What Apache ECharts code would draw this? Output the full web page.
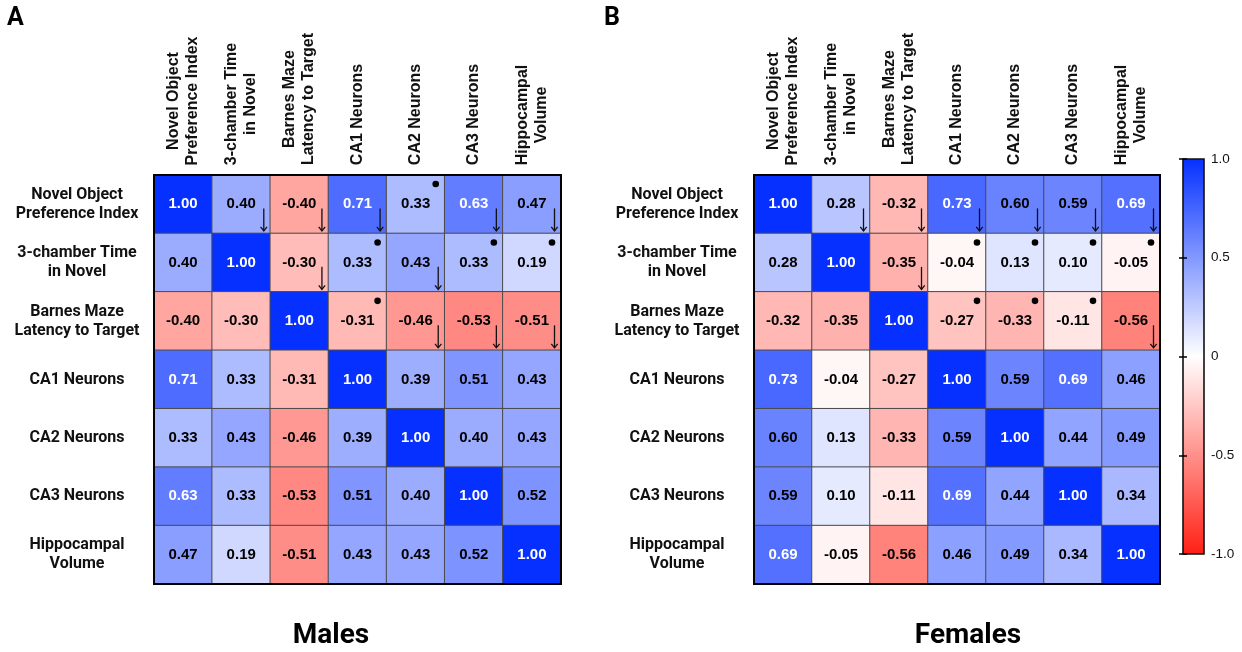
<!DOCTYPE html>
<html>
<head>
<meta charset="utf-8">
<script src="https://cdn.jsdelivr.net/npm/echarts@6/dist/echarts.min.js"></script>
<style>
html,body{margin:0;padding:0;background:#fff;}
#chart{width:1242px;height:652px;}
</style>
</head>
<body>
<div id="chart"></div>
<script>
// ---------------- DATA ----------------
const variables = [
  'Novel Object\nPreference Index',
  '3-chamber Time\nin Novel',
  'Barnes Maze\nLatency to Target',
  'CA1 Neurons',
  'CA2 Neurons',
  'CA3 Neurons',
  'Hippocampal\nVolume'
];

const malesCorr = [
  [ 1.00,  0.40, -0.40,  0.71,  0.33,  0.63,  0.47],
  [ 0.40,  1.00, -0.30,  0.33,  0.43,  0.33,  0.19],
  [-0.40, -0.30,  1.00, -0.31, -0.46, -0.53, -0.51],
  [ 0.71,  0.33, -0.31,  1.00,  0.39,  0.51,  0.43],
  [ 0.33,  0.43, -0.46,  0.39,  1.00,  0.40,  0.43],
  [ 0.63,  0.33, -0.53,  0.51,  0.40,  1.00,  0.52],
  [ 0.47,  0.19, -0.51,  0.43,  0.43,  0.52,  1.00]
];

const femalesCorr = [
  [ 1.00,  0.28, -0.32,  0.73,  0.60,  0.59,  0.69],
  [ 0.28,  1.00, -0.35, -0.04,  0.13,  0.10, -0.05],
  [-0.32, -0.35,  1.00, -0.27, -0.33, -0.11, -0.56],
  [ 0.73, -0.04, -0.27,  1.00,  0.59,  0.69,  0.46],
  [ 0.60,  0.13, -0.33,  0.59,  1.00,  0.44,  0.49],
  [ 0.59,  0.10, -0.11,  0.69,  0.44,  1.00,  0.34],
  [ 0.69, -0.05, -0.56,  0.46,  0.49,  0.34,  1.00]
];

// markers: [column, row]
const malesArrows   = [[1,0],[2,0],[3,0],[5,0],[6,0],[2,1],[4,1],[4,2],[5,2],[6,2]];
const malesDots     = [[4,0],[3,1],[5,1],[6,1],[3,2]];
const femalesArrows = [[1,0],[2,0],[3,0],[4,0],[5,0],[6,0],[2,1],[6,2]];
const femalesDots   = [[3,1],[4,1],[5,1],[6,1],[3,2],[4,2],[5,2]];

const colorScaleRange = [-1, 1];
const panelTitles  = ['Males', 'Females'];
const panelLetters = ['A', 'B'];

// ---------------- STYLE ----------------
const COL_NEG = '#ff2014', COL_MID = '#ffffff', COL_POS = '#0530ff';
const AXIS_FONT = 'Liberation Sans';
const ROW_FONT = 'Roboto';
const COL_FONT_SIZE = 16, COL_LINE_H = 19;

const chart = echarts.init(document.getElementById('chart'), null, {renderer: 'canvas'});

// column label rich styles: lines centered within the widest line of each label
const mctx = document.createElement('canvas').getContext('2d');
mctx.font = 'bold ' + COL_FONT_SIZE + 'px "' + AXIS_FONT + '"';
const colRich = {};
variables.forEach((lab, i) => {
  const w = Math.max(...lab.split('\n').map(l => mctx.measureText(l).width));
  colRich['c' + i] = {
    width: Math.ceil(w) + 1, align: 'center',
    fontFamily: AXIS_FONT, fontWeight: 'bold', fontSize: COL_FONT_SIZE,
    lineHeight: COL_LINE_H, color: '#111'
  };
});
function colFormatter(value, index) {
  return value.split('\n').map(l => '{c' + index + '|' + l + '}').join('\n');
}

function heatData(mat) {
  const out = [];
  mat.forEach((row, r) => row.forEach((v, c) => {
    out.push({value: [c, r, v], label: {color: v > 0.61 ? '#ffffff' : '#000000'}});
  }));
  return out;
}
function markerData(arrows, dots) {
  return arrows.map(p => [p[0], p[1], 0]).concat(dots.map(p => [p[0], p[1], 1]));
}

function renderMarker(params, api) {
  const p = api.coord([api.value(0), api.value(1)]);
  const s = api.size([1, 1]);
  const right = p[0] + s[0] / 2, top = p[1] - s[1] / 2, bottom = p[1] + s[1] / 2;
  if (api.value(2) === 0) {
    const x = right - 6.5;
    return {
      type: 'group',
      children: [
        {type: 'line', shape: {x1: x, y1: bottom - 25, x2: x, y2: bottom - 2.5},
         style: {stroke: '#111', lineWidth: 1.3}},
        {type: 'polyline', shape: {points: [[x - 3.2, bottom - 6.5], [x, bottom - 2.5], [x + 3.2, bottom - 6.5]]},
         style: {stroke: '#111', lineWidth: 1.3, fill: null}}
      ]
    };
  }
  return {type: 'circle', shape: {cx: right - 9, cy: top + 9, r: 3.3}, style: {fill: '#000'}};
}

function gridCfg(left, width) {
  return {left: left, top: 175, width: width, height: 409, show: true,
          backgroundColor: 'transparent', borderColor: '#000', borderWidth: 2, z: 10};
}
function xCat(gi) {
  return {
    type: 'category', gridIndex: gi, data: variables, position: 'top',
    axisLine: {show: false}, axisTick: {show: false}, splitLine: {show: false},
    axisLabel: {interval: 0, rotate: -90, margin: 9, formatter: colFormatter, rich: colRich}
  };
}
function yCat(gi) {
  return {
    type: 'category', gridIndex: gi, data: variables, inverse: true,
    axisLine: {show: false}, axisTick: {show: false}, splitLine: {show: false},
    axisLabel: {interval: 0, align: 'center', margin: 77, fontFamily: ROW_FONT,
                fontWeight: 'bold', fontSize: 16, lineHeight: 19, color: '#111'}
  };
}
function heatSeries(gi, mat) {
  return {
    type: 'heatmap', xAxisIndex: gi, yAxisIndex: gi, data: heatData(mat),
    itemStyle: {borderColor: '#4a4a4a', borderWidth: 1},
    label: {show: true, formatter: p => p.value[2].toFixed(2),
            fontFamily: AXIS_FONT, fontWeight: 'bold', fontSize: 15},
    emphasis: {disabled: true}
  };
}
function markerSeries(gi, arrows, dots) {
  return {
    type: 'custom', xAxisIndex: gi, yAxisIndex: gi, z: 5,
    data: markerData(arrows, dots), encode: {x: 0, y: 1},
    renderItem: renderMarker, silent: true
  };
}
const cbLabel = v => (Math.abs(v) === 1 ? v.toFixed(1) : String(v));

const option = {
  animation: false,
  backgroundColor: '#ffffff',
  visualMap: {
    type: 'continuous', show: false, min: colorScaleRange[0], max: colorScaleRange[1],
    seriesIndex: [0, 1], dimension: 2,
    inRange: {color: [COL_NEG, COL_MID, COL_POS]}
  },
  grid: [
    gridCfg(154, 407),
    gridCfg(754, 406),
    {left: 1183, top: 159, width: 21, height: 395, show: false}
  ],
  xAxis: [
    xCat(0), xCat(1),
    {type: 'value', gridIndex: 2, min: 0, max: 1, show: false}
  ],
  yAxis: [
    yCat(0), yCat(1),
    {type: 'value', gridIndex: 2, min: colorScaleRange[0], max: colorScaleRange[1], interval: 0.5,
     position: 'right', z: 10,
     axisLine: {show: false}, splitLine: {show: false},
     axisTick: {show: true, inside: true, length: 4, lineStyle: {color: '#000', width: 1.5}},
     axisLabel: {margin: 7, formatter: cbLabel, fontFamily: AXIS_FONT, fontSize: 13.5, color: '#111'}},
    {type: 'value', gridIndex: 2, min: colorScaleRange[0], max: colorScaleRange[1], interval: 0.5,
     position: 'left', z: 10,
     axisLine: {show: false}, splitLine: {show: false},
     axisTick: {show: true, inside: true, length: 4, lineStyle: {color: '#000', width: 1.5}},
     axisLabel: {show: false}}
  ],
  series: [
    heatSeries(0, malesCorr),
    heatSeries(1, femalesCorr),
    markerSeries(0, malesArrows, malesDots),
    markerSeries(1, femalesArrows, femalesDots),
    {
      type: 'custom', xAxisIndex: 2, yAxisIndex: 2, silent: true, z: 2,
      data: [[0, colorScaleRange[0], 1, colorScaleRange[1]]],
      renderItem: function (params, api) {
        const a = api.coord([api.value(0), api.value(1)]);
        const b = api.coord([api.value(2), api.value(3)]);
        return {
          type: 'rect',
          shape: {x: a[0], y: b[1], width: b[0] - a[0], height: a[1] - b[1]},
          style: {
            fill: new echarts.graphic.LinearGradient(0, 0, 0, 1, [
              {offset: 0, color: COL_POS}, {offset: 0.5, color: COL_MID}, {offset: 1, color: COL_NEG}
            ]),
            stroke: '#111', lineWidth: 1.6
          }
        };
      }
    }
  ],
  graphic: [
    {type: 'text', left: 7, top: 6, style: {text: panelLetters[0], font: 'bold 25px Roboto', fill: '#000'}},
    {type: 'text', left: 604, top: 6, style: {text: panelLetters[1], font: 'bold 25px Roboto', fill: '#000'}},
    {type: 'text', x: 331, y: 636, style: {text: panelTitles[0], font: 'bold 28px Roboto', fill: '#000',
      align: 'center', verticalAlign: 'middle'}},
    {type: 'text', x: 968, y: 636, style: {text: panelTitles[1], font: 'bold 28px Roboto', fill: '#000',
      align: 'center', verticalAlign: 'middle'}}
  ]
};
chart.setOption(option);
</script>
</body>
</html>
